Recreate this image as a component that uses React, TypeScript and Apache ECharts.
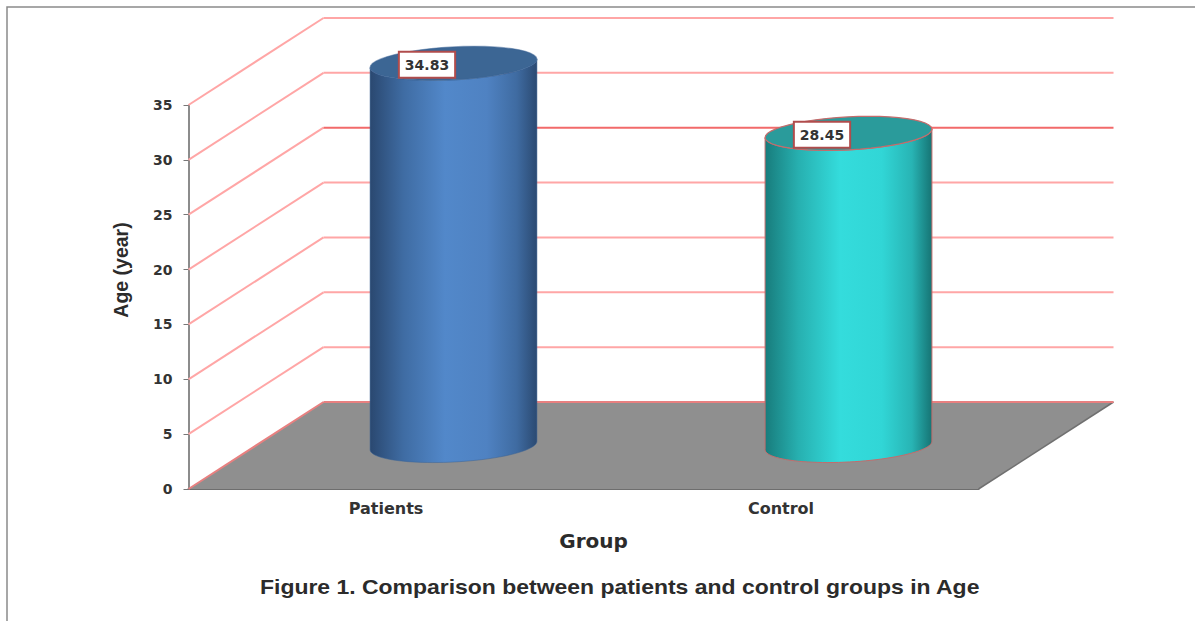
import React, { useEffect, useRef } from "react";
import * as echarts from "echarts";

const categories = ["Patients", "Control"];
const ageValues = [34.83, 28.45];
const yTicks = [0, 5, 10, 15, 20, 25, 30, 35];
const caption = "Figure 1. Comparison between patients and control groups in Age";

// Oblique projection of the chart's depth axis, in pixels.
const DEPTH_X = 135;
const DEPTH_Y = -87;
const ARIAL = "'Liberation Sans', Arial, sans-serif";
const WIDE = "'DejaVu Sans', Verdana, sans-serif";

const shadeOffsets = [0, 0.2, 0.45, 0.7, 0.88, 1];
const cylinderPalettes = [
  {
    stops: ["#2a4870", "#3f6ca3", "#5288ca", "#4f82c2", "#3f6ba1", "#2b4a72"],
    cap: "#3c6694",
    edge: "rgba(60,100,150,0.5)",
  },
  {
    stops: ["#187c7c", "#27b0b0", "#34dcdc", "#31d6d6", "#28b4b4", "#167474"],
    cap: "#2a9b9b",
    edge: "#c46c6c",
  },
];

function ellipsePoints(cx: number, cy: number, rx: number, ry: number, from: number, to: number) {
  const tilt = (-3 * Math.PI) / 180;
  const pts: number[][] = [];
  const steps = 48;
  for (let i = 0; i <= steps; i++) {
    const t = from + ((to - from) * i) / steps;
    pts.push([
      cx + rx * Math.cos(t) * Math.cos(tilt) - ry * Math.sin(t) * Math.sin(tilt),
      cy + rx * Math.cos(t) * Math.sin(tilt) + ry * Math.sin(t) * Math.cos(tilt),
    ]);
  }
  return pts;
}

function renderFloor(params: any, api: any) {
  const sys = params.coordSys;
  const base = api.coord([0, 0])[1];
  const left = sys.x;
  const right = sys.x + sys.width;
  return {
    type: "group",
    children: [
      {
        type: "polygon",
        shape: {
          points: [
            [left, base],
            [right, base],
            [right + DEPTH_X, base + DEPTH_Y],
            [left + DEPTH_X, base + DEPTH_Y],
          ],
        },
        style: { fill: "#8f8f8f" },
      },
      {
        type: "polyline",
        shape: {
          points: [
            [right, base],
            [right + DEPTH_X, base + DEPTH_Y],
          ],
        },
        style: { fill: "none", stroke: "#707070", lineWidth: 1.5 },
      },
    ],
  };
}

function renderWallLine(params: any, api: any) {
  const sys = params.coordSys;
  const value = api.value(1);
  const y = api.coord([0, value])[1];
  const left = sys.x;
  const right = sys.x + sys.width;
  const slant = value === 0 ? "#e88080" : "#ffa6a6";
  const run = value === 25 ? "#f26a6a" : value === 0 ? "#e88080" : "#ffa6a6";
  return {
    type: "group",
    children: [
      {
        type: "polyline",
        shape: {
          points: [
            [left, y],
            [left + DEPTH_X, y + DEPTH_Y],
          ],
        },
        style: { fill: "none", stroke: slant, lineWidth: 2 },
      },
      {
        type: "polyline",
        shape: {
          points: [
            [left + DEPTH_X, y + DEPTH_Y],
            [right + DEPTH_X, y + DEPTH_Y],
          ],
        },
        style: { fill: "none", stroke: run, lineWidth: 2 },
      },
    ],
  };
}

function renderCylinder(params: any, api: any) {
  const palette = cylinderPalettes[params.dataIndex];
  const rx = (api.size([1, 0])[0] * 0.423) / 2;
  const ry = 16.5;
  const foot = api.coord([api.value(0), 0]);
  const head = api.coord([api.value(0), api.value(1)]);
  const cx = foot[0] + DEPTH_X / 2;
  const baseY = foot[1] + DEPTH_Y / 2;
  const topY = head[1] + DEPTH_Y / 2;
  const body = [
    ...ellipsePoints(cx, baseY, rx, ry, 0, Math.PI),
    ...ellipsePoints(cx, topY, rx, ry, Math.PI, 0),
  ];
  return {
    type: "group",
    children: [
      {
        type: "polygon",
        shape: { points: body },
        style: {
          fill: new echarts.graphic.LinearGradient(
            0,
            0,
            1,
            0,
            palette.stops.map((color, i) => ({ offset: shadeOffsets[i], color })),
          ),
          stroke: palette.edge,
          lineWidth: 1,
        },
      },
      {
        type: "polygon",
        shape: { points: ellipsePoints(cx, topY, rx, ry, 0, Math.PI * 2) },
        style: { fill: palette.cap, stroke: palette.edge, lineWidth: 1.2 },
      },
      {
        type: "text",
        x: cx - 26.5,
        y: topY + 1.5,
        style: {
          text: api.value(1).toFixed(2),
          x: 0,
          y: 0,
          align: "center",
          verticalAlign: "middle",
          font: "bold 14px 'DejaVu Sans', sans-serif",
          fill: "#333333",
          backgroundColor: "#ffffff",
          borderColor: "#b04c4c",
          borderWidth: 2,
          padding: [5, 5, 5, 5],
        },
      },
    ],
  };
}

export default function App() {
  const ref = useRef<HTMLDivElement>(null);

  useEffect(() => {
    document.body.style.margin = "0";
    const chart = echarts.init(ref.current!, undefined, { renderer: "svg" });
    chart.setOption({
      animation: false,
      backgroundColor: "#ffffff",
      grid: { left: 188.5, top: 105, width: 790, height: 384 },
      xAxis: {
        type: "category",
        data: categories,
        name: "Group",
        nameLocation: "middle",
        nameGap: 42,
        nameTextStyle: {
          fontFamily: WIDE,
          fontWeight: "bold",
          fontSize: 20,
          color: "#2b2b2b",
          padding: [0, 0, 0, 20],
        },
        axisLine: { lineStyle: { color: "#6e6e6e", width: 2 } },
        axisTick: { length: 6, lineStyle: { color: "#777777" } },
        axisLabel: {
          margin: 11,
          fontFamily: WIDE,
          fontWeight: "bold",
          fontSize: 16,
          color: "#333333",
        },
      },
      yAxis: {
        type: "value",
        min: 0,
        max: 35,
        interval: 5,
        name: "Age (year)",
        nameLocation: "middle",
        nameGap: 58,
        nameTextStyle: {
          fontFamily: ARIAL,
          fontWeight: "bold",
          fontSize: 19.5,
          color: "#2b2b2b",
          padding: [0, 0, 0, 54],
        },
        splitLine: { show: false },
        axisLine: { show: true, lineStyle: { color: "#666666", width: 1.5 } },
        axisTick: { show: true, length: 5, lineStyle: { color: "#777777" } },
        axisLabel: {
          margin: 16,
          fontFamily: WIDE,
          fontWeight: "bold",
          fontSize: 14,
          color: "#333333",
        },
      },
      graphic: [
        {
          type: "polyline",
          shape: {
            points: [
              [7, 621],
              [7, 7],
              [1195, 7],
            ],
          },
          style: { fill: "none", stroke: "#8a8a8a", lineWidth: 1.5 },
        },
        {
          // Caption below the plot, widened to run the width of the floor.
          type: "text",
          x: 260,
          y: 587,
          scaleX: 1.148,
          style: {
            text: caption,
            x: 0,
            y: 0,
            align: "left",
            verticalAlign: "middle",
            font: `bold 20px ${ARIAL}`,
            fill: "#2b2b2b",
          },
        },
      ],
      series: [
        {
          type: "custom",
          coordinateSystem: "cartesian2d",
          renderItem: renderFloor,
          data: [[0, 0]],
          silent: true,
          z: 1,
        },
        {
          type: "custom",
          coordinateSystem: "cartesian2d",
          renderItem: renderWallLine,
          data: yTicks.map((v) => [0, v]),
          silent: true,
          z: 2,
        },
        {
          type: "custom",
          coordinateSystem: "cartesian2d",
          renderItem: renderCylinder,
          data: ageValues.map((v, i) => [i, v]),
          silent: true,
          z: 3,
        },
      ],
    });
    return () => chart.dispose();
  }, []);

  return <div ref={ref} style={{ width: 1195, height: 621 }} />;
}
